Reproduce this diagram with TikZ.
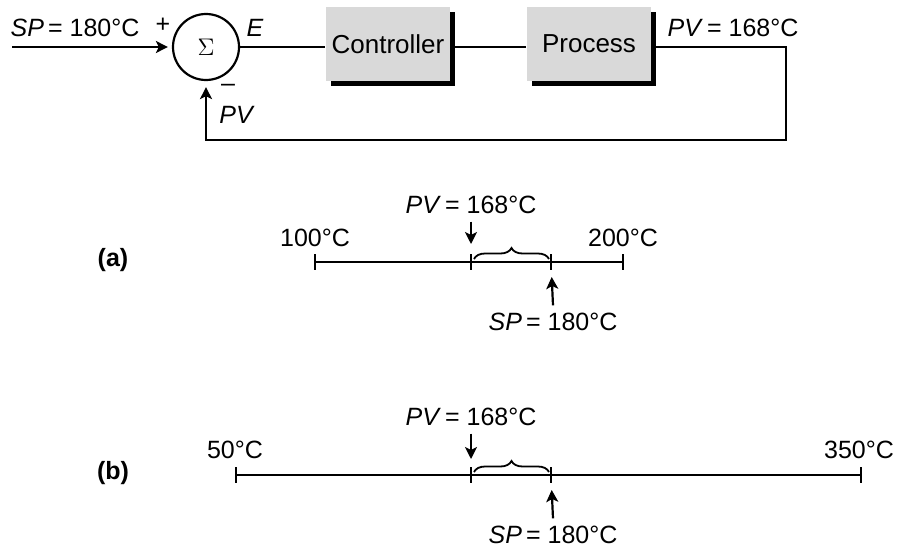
\documentclass[tikz,border=0pt]{standalone}
\usepackage{fontspec}
\setmainfont{Liberation Sans}
\usetikzlibrary{shadows,decorations.pathreplacing,arrows.meta}

\tikzset{
  blok/.style={fill=black!15,minimum width=62pt,minimum height=37pt,inner sep=0pt,
    font=\fontsize{13}{15}\selectfont,
    drop shadow={shadow xshift=2.5pt,shadow yshift=-2.5pt,fill=black,opacity=1}},
  tik/.style={line width=1.1pt},
  brc/.style={decorate,decoration={brace,amplitude=5.5pt},line width=0.9pt}
}

\begin{document}
\begin{tikzpicture}[x=0.5pt,y=-0.5pt,>={Stealth[length=6pt,width=6pt,inset=1.5pt]},line width=1.1pt,font=\fontsize{12.5}{14}\selectfont]
\useasboundingbox (0,0) rectangle (904,546);

% loop
\node[circle,draw,minimum size=33pt,inner sep=0pt] (sum) at (206,47) {\large$\Sigma$};
\node[blok] (ctrl) at (388,44) {Controller};
\node[blok] (proc) at (589,44) {Process};
\coordinate (in) at (12,47);
\coordinate (back) at (786,140);

\draw[->,shorten >=2pt] (in) -- (sum.west);
\draw (sum.east) -- (sum.east -| ctrl.west);
\draw (sum.east -| ctrl.east) -- (sum.east -| proc.west);
\draw[->,shorten >=3pt] (sum.east -| proc.east) -- (sum.east -| back) -- (back) -| (sum.south);

\node (spin) at (75,28) {\textit{SP}\,= 180°C};
\node (plus) at (163,25) {+};
\node (err) at (255,28) {\textit{E}};
\node (minus) at (228,88) {–};
\node (pvfb) at (237,115) {\textit{PV}};
\node (pvout) at (733,28) {\textit{PV}\,= 168°C};

% scale (a)
\node[font=\fontsize{12.5}{14}\selectfont\bfseries] (la) at (113,260) {(a)};
\coordinate (a0) at (315,262);
\coordinate (a1) at (623,262);
\coordinate (apv) at (471,262);
\coordinate (asp) at (551,262);
\draw (a0) -- (a1);
\foreach \p in {a0,a1,apv,asp}
  \draw[tik] ([yshift=4pt]\p) -- ([yshift=-4pt]\p);
\node (amin) at (315,238) {100°C};
\node (amax) at (623,238) {200°C};
\node (apvl) at (471,205) {\textit{PV}\,= 168°C};
\node (aspl) at (553,322) {\textit{SP}\,= 180°C};
\draw[->,shorten >=9pt] (apvl.south) -- (apv);
\draw[->,shorten >=7.5pt] (aspl.north) -- (asp);
\draw[brc] ([xshift=1.5pt,yshift=1.5pt]apv) -- ([xshift=-1pt,yshift=1.5pt]asp);

% scale (b)
\node[font=\fontsize{12.5}{14}\selectfont\bfseries] (lb) at (113,473) {(b)};
\coordinate (b0) at (236,475);
\coordinate (b1) at (861,475);
\coordinate (bpv) at (471,475);
\coordinate (bsp) at (551,475);
\draw (b0) -- (b1);
\foreach \p in {b0,b1,bpv,bsp}
  \draw[tik] ([yshift=4pt]\p) -- ([yshift=-4pt]\p);
\node (bmin) at (235,450) {50°C};
\node (bmax) at (859,450) {350°C};
\node (bpvl) at (471,417) {\textit{PV}\,= 168°C};
\node (bspl) at (553,535) {\textit{SP}\,= 180°C};
\draw[->,shorten >=8pt] (bpvl.south) -- (bpv);
\draw[->,shorten >=7.5pt] (bspl.north) -- (bsp);
\draw[brc] ([xshift=1.5pt,yshift=1.5pt]bpv) -- ([xshift=-1pt,yshift=1.5pt]bsp);
\end{tikzpicture}
\end{document}
